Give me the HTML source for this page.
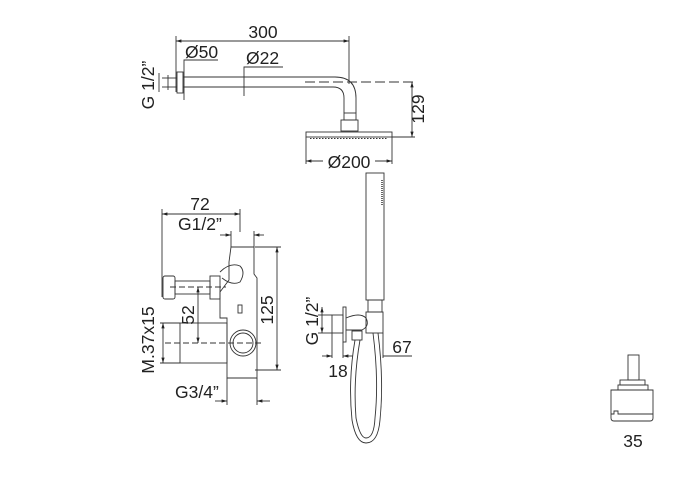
<!DOCTYPE html>
<html><head><meta charset="utf-8"><style>
html,body{margin:0;padding:0;background:#fff;}
svg{display:block;}
text{font-family:"Liberation Sans",sans-serif;fill:#222;font-size:17.5px;}
</style></head><body>
<svg width="690" height="493" viewBox="0 0 690 493" xmlns="http://www.w3.org/2000/svg">
<defs>
<marker id="a" viewBox="0 0 10 10" refX="10" refY="5" markerWidth="6" markerHeight="6" orient="auto-start-reverse"><path d="M0,2 L10,5 L0,8z" fill="#222"/></marker>
</defs>
<g stroke="#333" stroke-width="0.9" fill="none">
<line x1="176" y1="41" x2="349" y2="41" marker-start="url(#a)" marker-end="url(#a)"/>
<line x1="176" y1="36" x2="176" y2="92"/>
<line x1="349" y1="36" x2="349" y2="84"/>
<polyline points="184,100 184,60 218,60"/>
<polyline points="244,96 244,67 283,67"/>
<line x1="162" y1="78" x2="177" y2="78"/><line x1="162" y1="87" x2="177" y2="87"/>
<line x1="168" y1="75" x2="168" y2="90"/>
<line x1="159" y1="73" x2="159" y2="92"/>
<rect x="177" y="72" width="6" height="21"/>
<path d="M183,77 L335,77 Q356,77 356,98 L356,113"/>
<path d="M183,87 L333,87 Q344,87 344,98 L344,113"/>
<line x1="305" y1="82" x2="415" y2="82" stroke-dasharray="10,4"/>
<line x1="412" y1="82" x2="412" y2="137" marker-start="url(#a)" marker-end="url(#a)"/>
<line x1="392" y1="137" x2="415" y2="137"/>
<rect x="344" y="113" width="12" height="7"/>
<rect x="341" y="120" width="17" height="11"/>
<rect x="306" y="132" width="86" height="5"/>
<line x1="310" y1="138.5" x2="388" y2="138.5" stroke-dasharray="1.5,1.5"/>
<line x1="306" y1="137" x2="306" y2="164"/><line x1="392" y1="137" x2="392" y2="164"/>
<line x1="306" y1="161" x2="323" y2="161" marker-start="url(#a)"/>
<line x1="375" y1="161" x2="392" y2="161" marker-end="url(#a)"/>
<line x1="162" y1="214" x2="240" y2="214" marker-start="url(#a)" marker-end="url(#a)"/>
<line x1="162" y1="209" x2="162" y2="297"/>
<line x1="240" y1="209" x2="240" y2="232"/>
<line x1="220" y1="235" x2="231" y2="235" marker-end="url(#a)"/>
<line x1="264" y1="235" x2="254" y2="235" marker-end="url(#a)"/>
<line x1="231" y1="231" x2="231" y2="247"/><line x1="254" y1="231" x2="254" y2="247"/>
<path d="M231,247 L254,247 L254,274 L257,278 L257,378 L227,378 L227,318 L220,318 L220,292 L229,280 L229,262 Z"/>
<path d="M220,272 Q230,262 240,266 Q246,272 240,282 Q232,286 222,278"/>
<rect x="163" y="276" width="12" height="23" rx="2"/>
<rect x="175" y="281" width="35" height="13"/>
<rect x="210" y="276" width="10" height="23"/>
<line x1="170" y1="287" x2="226" y2="287" stroke-dasharray="6,3"/>
<rect x="238" y="305" width="4" height="8"/>
<line x1="198" y1="287" x2="198" y2="343" marker-start="url(#a)" marker-end="url(#a)"/>
<line x1="255" y1="247" x2="281" y2="247"/><line x1="255" y1="370" x2="281" y2="370"/>
<line x1="277" y1="247" x2="277" y2="370" marker-start="url(#a)" marker-end="url(#a)"/>
<rect x="180" y="323" width="47" height="40"/>
<line x1="160" y1="323" x2="180" y2="323"/><line x1="160" y1="363" x2="180" y2="363"/>
<line x1="163" y1="323" x2="163" y2="363" marker-start="url(#a)" marker-end="url(#a)"/>
<line x1="165" y1="343" x2="262" y2="343" stroke-dasharray="6,3"/>
<circle cx="243" cy="343" r="13"/><circle cx="243" cy="343" r="10"/>
<line x1="227" y1="378" x2="227" y2="405"/><line x1="257" y1="378" x2="257" y2="405"/>
<line x1="215" y1="401" x2="227" y2="401" marker-end="url(#a)"/>
<line x1="270" y1="401" x2="257" y2="401" marker-end="url(#a)"/>
<rect x="366" y="173" width="18" height="127"/>
<line x1="382" y1="180" x2="382" y2="205" stroke-dasharray="1,1" stroke-width="1.5"/>
<rect x="368" y="300" width="14" height="12"/>
<line x1="322" y1="307" x2="322" y2="333" marker-start="url(#a)" marker-end="url(#a)"/>
<line x1="318" y1="315" x2="332" y2="315"/><line x1="318" y1="333" x2="332" y2="333"/>
<rect x="332" y="315" width="11" height="18"/>
<rect x="343" y="307" width="3" height="35"/>
<path d="M346,318 Q360,312 366,318 Q370,326 362,330 L346,330"/>
<rect x="366" y="312" width="17" height="21"/>
<rect x="352" y="331" width="10" height="9"/>
<line x1="332" y1="333" x2="332" y2="358"/><line x1="343" y1="342" x2="343" y2="358"/>
<line x1="322" y1="356" x2="332" y2="356" marker-end="url(#a)"/>
<line x1="353" y1="356" x2="343" y2="356" marker-end="url(#a)"/>
<line x1="383" y1="356" x2="412" y2="356"/>
<line x1="383" y1="333" x2="383" y2="358"/>
<path d="M355,340 Q348,380 352,420 Q356,443 366,443 Q378,443 380,420 Q384,380 378,333"/>
<path d="M360,340 Q353,380 356,418 Q360,438 366,438 Q374,438 375,418 Q379,380 373,333"/>
<rect x="628" y="355" width="11" height="25"/>
<rect x="620" y="380" width="25" height="5"/>
<rect x="618" y="385" width="30" height="5"/>
<path d="M611,390 L653,390 L653,418 Q653,421 650,421 L614,421 Q611,421 611,418 Z"/>
<path d="M611,414 L614,414 L614,411 L618,411 L618,414 L653,414"/>
</g>
<g>
<text x="263" y="38" text-anchor="middle">300</text>
<text x="185" y="58">Ø50</text>
<text x="246" y="64">Ø22</text>
<text x="349" y="168" text-anchor="middle">Ø200</text>
<text transform="translate(154,85) rotate(-90)" text-anchor="middle">G 1/2”</text>
<text transform="translate(424,109) rotate(-90)" text-anchor="middle">129</text>
<text x="200" y="210" text-anchor="middle">72</text>
<text x="178" y="230">G1/2”</text>
<text transform="translate(194,315) rotate(-90)" text-anchor="middle">52</text>
<text transform="translate(273,310) rotate(-90)" text-anchor="middle">125</text>
<text transform="translate(154,340) rotate(-90)" text-anchor="middle">M.37x15</text>
<text x="175" y="398">G3/4”</text>
<text transform="translate(318,321) rotate(-90)" text-anchor="middle">G 1/2”</text>
<text x="338" y="377" text-anchor="middle">18</text>
<text x="402" y="353" text-anchor="middle">67</text>
<text x="633" y="447" text-anchor="middle">35</text>
</g>
</svg>
</body></html>
